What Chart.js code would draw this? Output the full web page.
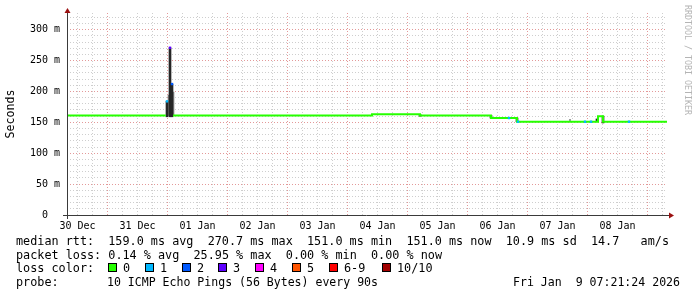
<!DOCTYPE html>
<html><head><meta charset="utf-8">
<script src="https://cdn.jsdelivr.net/npm/chart.js@4/dist/chart.umd.min.js"></script>
<style>html,body{margin:0;padding:0;background:#fff;}#wrap{width:697px;height:297px;position:relative;}</style>
</head><body><div id="wrap"><canvas id="c" width="697" height="297"></canvas></div>
<script>
// ---- data (times: hours since 30 Dec 00:00; values: ms) ----
const dayLabels = ['30 Dec','31 Dec','01 Jan','02 Jan','03 Jan','04 Jan','05 Jan','06 Jan','07 Jan','08 Jan'];
const medianTimes  = [7.8, 47.3, 47.4, 50.2, 129.8, 149.0, 177.4, 187.8, 220.2, 222.2, 247.8];
const medianValues = [161, 161, null, 161, 163, 161, 157, 151, 160, 151, 151];
const lossTimes  = [47.8, 49.0, 49.8, 184.6, 188.2, 215.0, 217.4, 232.6];
const lossValues = [184, 270.7, 212, 157, 151, 151, 151, 151];
const lossCounts = [1, 3, 2, 1, 1, 1, 1, 1];
const smokeTimes = [47.8, 49.0, 49.8, 149.0, 177.4, 187.8, 219.8, 222.2];
const smokeLow   = [159, 159, 159, 160, 157, 151, 151, 149];
const smokeHigh  = [184, 270.7, 212, 163, 161, 157, 155.5, 160];
const lightSmokeTimes = [48.4, 50.4, 209.0];
const lightSmokeLow   = [161, 161, 151];
const lightSmokeHigh  = [194, 199, 155];
const lossColors = ['#26ff00','#00b8ff','#0059ff','#5e00ff','#ff00ff','#ff5500','#ff0000','#a10000'];
const lossLabels = ['0','1','2','3','4','5','6-9','10/10'];
const rttLine   = 'median rtt:  159.0 ms avg  270.7 ms max  151.0 ms min  151.0 ms now  10.9 ms sd  14.7   am/s';
const lossLine  = 'packet loss: 0.14 % avg  25.95 % max  0.00 % min  0.00 % now';
const probeText = '10 ICMP Echo Pings (56 Bytes) every 90s';
const dateText  = 'Fri Jan  9 07:21:24 2026';

const MONO = '"DejaVu Sans Mono", "Liberation Mono", monospace';
const MAJOR = 'rgba(215,110,110,0.7)';
const MINOR = 'rgba(165,165,165,0.55)';

const textPlugin = {
  id: 'rrdtext',
  beforeDraw(chart) {
    const c = chart.ctx;
    c.save(); c.fillStyle = '#fff'; c.fillRect(0, 0, chart.width, chart.height); c.restore();
  },
  afterDraw(chart) {
    const c = chart.ctx;
    const a = chart.chartArea;
    c.save();
    // axes
    c.strokeStyle = '#3a3a3a'; c.lineWidth = 1;
    c.beginPath();
    c.moveTo(a.left + 0.5, a.bottom + 4); c.lineTo(a.left + 0.5, a.top - 2);
    c.moveTo(a.left - 4, a.bottom + 0.5); c.lineTo(a.right + 3, a.bottom + 0.5);
    c.stroke();
    // arrows
    c.fillStyle = '#9b1010';
    c.beginPath(); c.moveTo(a.left - 2.5, a.top); c.lineTo(a.left + 3.5, a.top); c.lineTo(a.left + 0.5, a.top - 5); c.closePath(); c.fill();
    c.beginPath(); c.moveTo(a.right + 2, a.bottom - 2.5); c.lineTo(a.right + 2, a.bottom + 3.5); c.lineTo(a.right + 7, a.bottom + 0.5); c.closePath(); c.fill();
    // unit label
    c.fillStyle = '#000';
    c.font = '11.6px ' + MONO;
    c.textAlign = 'center'; c.textBaseline = 'middle';
    c.save(); c.translate(11, 114); c.rotate(-Math.PI / 2); c.fillText('Seconds', 0, 0); c.restore();
    // watermark
    c.save(); c.fillStyle = '#b4b4b4'; c.font = '8.3px ' + MONO;
    c.translate(687, 60); c.rotate(Math.PI / 2); c.fillText('RRDTOOL / TOBI OETIKER', 0, 0); c.restore();
    // legend lines
    c.textAlign = 'left'; c.fillStyle = '#000'; c.font = '11.8px ' + MONO;
    const r1 = 242, r2 = 255.5, r3 = 268.5, r4 = 282.5;
    c.fillText(rttLine, 16, r1, 653);
    c.fillText(lossLine, 16, r2, 426);
    c.fillText('loss color:', 16, r3);
    const bx = [108, 145, 182, 218, 255, 292, 329, 382];
    lossLabels.forEach((s, i) => {
      c.fillStyle = lossColors[i]; c.fillRect(bx[i], 263, 9, 9);
      c.strokeStyle = '#000'; c.strokeRect(bx[i] + 0.5, 263.5, 8, 8);
      c.fillStyle = '#000'; c.fillText(s, bx[i] + 15, r3);
    });
    c.fillText('probe:', 16, r4);
    c.fillText(probeText, 107, r4, 271);
    c.textAlign = 'right'; c.fillText(dateText, 680, r4, 167);
    c.restore();
  }
};

new Chart(document.getElementById('c'), {
  type: 'line',
  data: {
    datasets: [
      {
        type: 'line', order: 0, showLine: false,
        data: lossTimes.map((t, i) => ({x: t, y: lossValues[i]})),
        pointStyle: 'rect', pointRadius: 1.7, pointBorderWidth: 0,
        pointBackgroundColor: ctx => lossColors[lossCounts[ctx.dataIndex]],
        pointBorderColor: ctx => lossColors[lossCounts[ctx.dataIndex]]
      },
      {
        type: 'line', order: 1,
        data: medianTimes.map((t, i) => ({x: t, y: medianValues[i]})),
        borderColor: lossColors[0], borderWidth: 2, stepped: 'before',
        pointRadius: 0, spanGaps: false, borderCapStyle: 'butt'
      },
      {
        type: 'bar', order: 2, grouped: false,
        data: smokeTimes.map((t, i) => ({x: t, y: [smokeLow[i], smokeHigh[i]]})),
        backgroundColor: '#262626', barThickness: 2, borderWidth: 0
      },
      {
        type: 'bar', order: 3, grouped: false,
        data: lightSmokeTimes.map((t, i) => ({x: t, y: [lightSmokeLow[i], lightSmokeHigh[i]]})),
        backgroundColor: '#8a8a8a', barThickness: 1, borderWidth: 0
      }
    ]
  },
  options: {
    responsive: false, animation: false, devicePixelRatio: 1,
    layout: {padding: {left: 0, top: 13, right: 30, bottom: 0}},
    plugins: {legend: {display: false}, tooltip: {enabled: false}},
    scales: {
      x: {
        type: 'linear', min: 7.8, max: 247.8, offset: false,
        afterFit: s => { s.height = 82; },
        afterBuildTicks: s => {
          const t = [];
          for (let h = 12; h <= 247.8; h += 6) t.push({value: h});
          s.ticks = t;
        },
        grid: {
          offset: false, drawTicks: false, lineWidth: 1,
          color: ctx => (ctx.tick && ctx.tick.value % 24 === 0) ? MAJOR : MINOR
        },
        border: {display: false, dash: [1, 2]},
        ticks: {
          autoSkip: false, maxRotation: 0, padding: 5, color: '#000',
          font: {family: MONO, size: 10},
          callback: v => (v % 24 === 12) ? dayLabels[Math.floor(v / 24)] : ''
        }
      },
      y: {
        type: 'linear', min: 0, max: 327,
        afterFit: s => { s.width = 67; },
        afterBuildTicks: s => {
          const t = [];
          for (let v = 0; v <= 320; v += 10) t.push({value: v});
          s.ticks = t;
        },
        grid: {
          drawTicks: false, lineWidth: 1,
          color: ctx => (ctx.tick && ctx.tick.value % 50 === 0) ? MAJOR : MINOR
        },
        border: {display: false, dash: [1, 2]},
        ticks: {
          autoSkip: false, padding: 7, color: '#000',
          font: {family: MONO, size: 10},
          callback: v => (v % 50 === 0) ? (v === 0 ? '0  ' : v + ' m') : ''
        }
      }
    }
  },
  plugins: [textPlugin]
});
</script></body></html>
